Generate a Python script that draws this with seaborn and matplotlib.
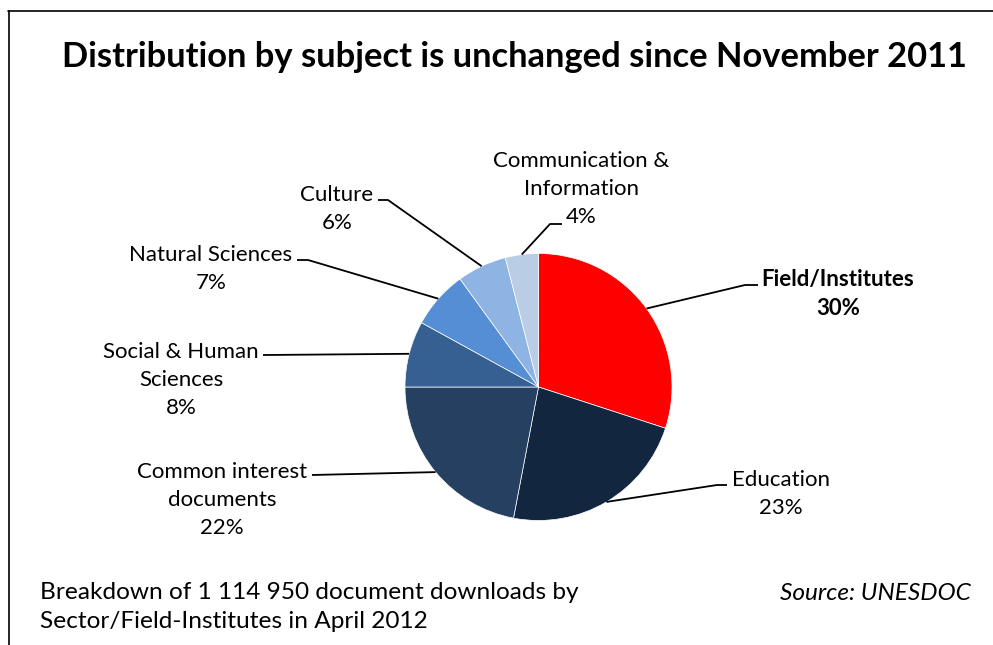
import numpy as np
import matplotlib.pyplot as plt
import seaborn as sns

# Data
sectors = ["Field/Institutes", "Education", "Common interest\ndocuments",
           "Social & Human\nSciences", "Natural Sciences", "Culture",
           "Communication &\nInformation"]
shares = [30, 23, 22, 8, 7, 6, 4]
colors = ["#FF0000", "#13263F", "#254061", "#376092", "#558ED5", "#8EB4E3", "#B9CDE5"]

# Label layout (pixel coords): label centre, elbow point, end of horizontal tick
label_pos = [(838, 294), (781, 494), (222, 500), (181, 380), (211, 269), (337, 209), (581, 189)]
elbow_pos = [(745, 285), (717, 485), (312, 475), (265, 355), (308, 260), (388, 200), (550, 224)]
tick_end = [(758, 285), (727, 485), (312, 475), (263, 355), (297, 260), (378, 200), (562, 224)]

sns.set_theme(style="white")
plt.rcParams['font.family'] = ['Lato', 'DejaVu Sans']
plt.rcParams['text.color'] = 'black'

W, H = 993, 645
fig = plt.figure(figsize=(W / 100, H / 100), dpi=100)
ax = fig.add_axes([0, 0, 1, 1])
ax.set_xlim(0, W)
ax.set_ylim(H, 0)

cx, cy, r = 538.5, 387, 133.5
# y axis is inverted, so counterclockwise in data space is clockwise on screen
wedges, _ = ax.pie(shares, colors=colors, startangle=-90, counterclock=True,
                   center=(cx, cy), radius=r, frame=True,
                   wedgeprops=dict(edgecolor="white", linewidth=0.5))
ax.set_xlim(0, W)
ax.set_ylim(H, 0)
ax.axis("off")

for i, w in enumerate(wedges):
    mid = np.deg2rad((w.theta1 + w.theta2) / 2)
    x0, y0 = cx + r * np.cos(mid), cy + r * np.sin(mid)
    ex, ey = elbow_pos[i]
    tx, ty = tick_end[i]
    ax.plot([x0, ex, tx], [y0, ey, ty], color="black", lw=1.3, solid_capstyle="butt")
    lx, ly = label_pos[i]
    bold = "bold" if i == 0 else "normal"
    ax.text(lx, ly, f"{sectors[i]}\n{shares[i]}%", ha="center", va="center",
            fontsize=16, fontweight=bold, linespacing=1.52, color="black")

# Title and notes
ax.text(514, 57, "Distribution by subject is unchanged since November 2011",
        ha="center", va="center", fontsize=24.8, fontweight="bold", color="black")
ax.text(40, 607, "Breakdown of 1 114 950 document downloads by\nSector/Field-Institutes in April 2012",
        ha="left", va="center", fontsize=17.6, linespacing=1.5, color="black")
ax.text(971, 594, "Source: UNESDOC", ha="right", va="center", fontsize=17.6,
        style="italic", color="black")

# Frame lines at top and left
ax.plot([8, W], [11, 11], color="black", lw=1.2)
ax.plot([9, 9], [11, H], color="black", lw=1.2)

fig.savefig("out.png", dpi=100)
